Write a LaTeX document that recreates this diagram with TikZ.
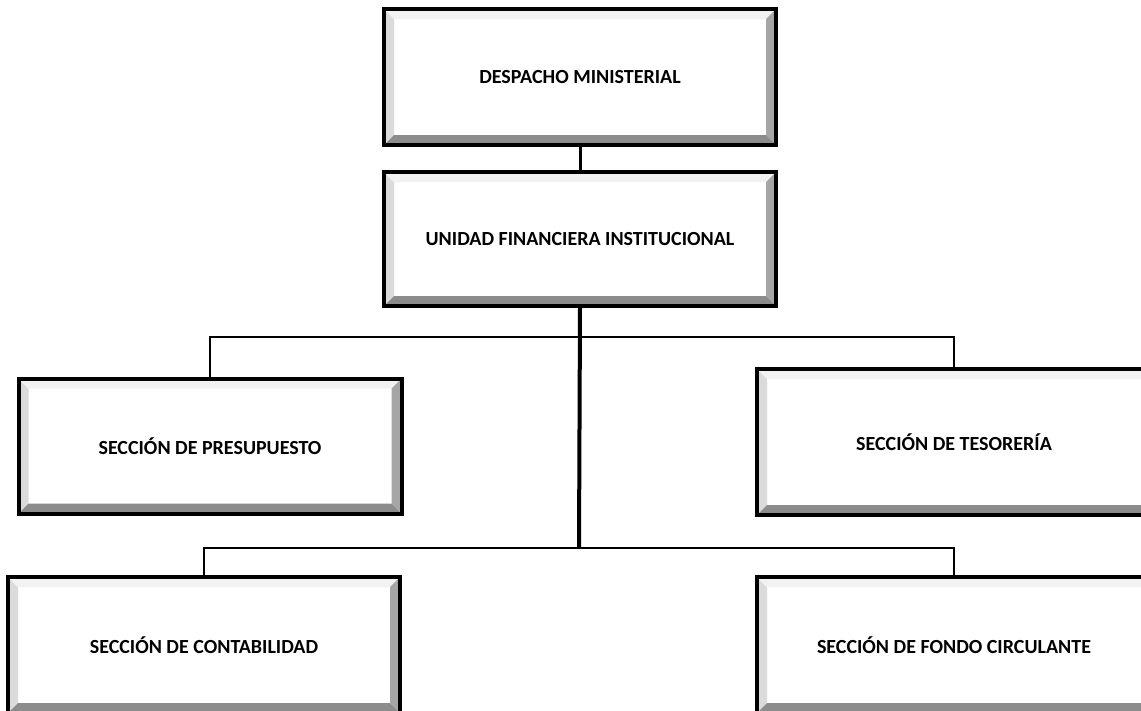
\documentclass[tikz,border=0pt]{standalone}
\usepackage{fontspec}
\setmainfont{Carlito}
\usepackage{tikz}
\usetikzlibrary{positioning, calc}

\definecolor{bevelLeft}{gray}{0.86}
\definecolor{bevelTop}{gray}{0.95}
\definecolor{bevelRight}{gray}{0.65}
\definecolor{bevelBottom}{gray}{0.55}

\tikzset{
    bevelbox/.style = {draw, line width = 4pt, fill = white, inner sep = 0pt,
        font = \bfseries\fontsize{20}{24}\selectfont,
        path picture = {
            \path (path picture bounding box.south west) coordinate (bbSW)
                  (path picture bounding box.north east) coordinate (bbNE)
                  (path picture bounding box.north west) coordinate (bbNW)
                  (path picture bounding box.south east) coordinate (bbSE);
            \fill[bevelLeft] (bbSW) -- (bbNW) -- ($(bbNW)+(10pt,-10pt)$) -- ($(bbSW)+(10pt,10pt)$) -- cycle;
            \fill[bevelTop] (bbNW) -- (bbNE) -- ($(bbNE)+(-10pt,-10pt)$) -- ($(bbNW)+(10pt,-10pt)$) -- cycle;
            \fill[bevelRight] (bbNE) -- (bbSE) -- ($(bbSE)+(-10pt,10pt)$) -- ($(bbNE)+(-10pt,-10pt)$) -- cycle;
            \fill[bevelBottom] (bbSW) -- (bbSE) -- ($(bbSE)+(-10pt,10pt)$) -- ($(bbSW)+(10pt,10pt)$) -- cycle;
        }},
    trunk/.style = {line width = 4pt},
    branch/.style = {line width = 2.5pt}
}

\begin{document}
\begin{tikzpicture}[x = 1pt, y = -1pt]
    \useasboundingbox (0, 0) rectangle (1141, 710);
    \clip (0, 0) rectangle (1141, 710);

    % draw the two top boxes
    \node[bevelbox, minimum width = 392pt, minimum height = 136pt] (despacho) at (580, 77) {DESPACHO MINISTERIAL};
    \node[bevelbox, minimum width = 392pt, minimum height = 134pt] (ufi) at (580, 239) {UNIDAD FINANCIERA INSTITUCIONAL};


    % draw the sections
    \node[bevelbox, minimum width = 383pt, minimum height = 135pt] (presupuesto) at (210, 446) {SECCIÓN DE PRESUPUESTO};
    \node[bevelbox, minimum width = 394pt, minimum height = 146pt] (tesoreria) at (954, 442) {SECCIÓN DE TESORERÍA};

    \node[bevelbox, minimum width = 392pt, minimum height = 136pt] (contabilidad) at (204, 645) {SECCIÓN DE CONTABILIDAD};
    \node[bevelbox, minimum width = 394pt, minimum height = 136pt] (fondo) at (954, 645) {SECCIÓN DE FONDO CIRCULANTE};


    % draw connectors
    \coordinate (upper) at (579, 337);
    \coordinate (lower) at (579, 548);

    \draw[line width = 3pt] (despacho.south) -- (ufi.north);
    \draw[trunk] (ufi.south) -- (lower);

    \draw[branch] (presupuesto.north) |- (upper) -| (tesoreria.north);
    \draw[branch] (contabilidad.north) |- (lower) -| (fondo.north);

\end{tikzpicture}
\end{document}
